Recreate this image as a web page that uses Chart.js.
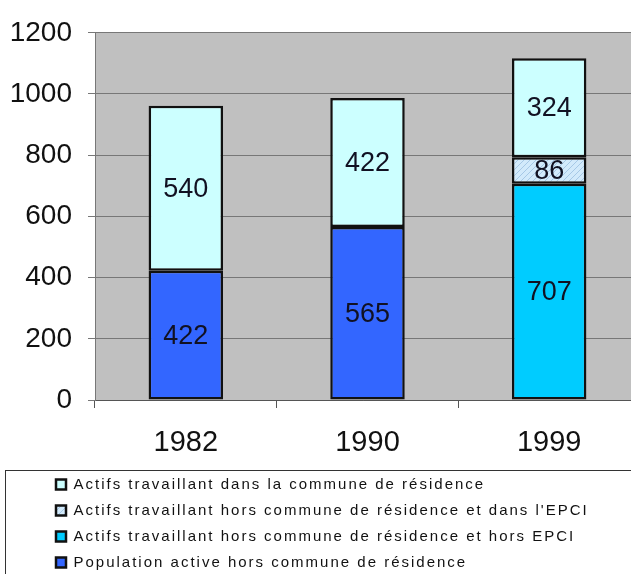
<!DOCTYPE html>
<html>
<head>
<meta charset="utf-8">
<script src="https://cdn.jsdelivr.net/npm/chart.js@4.4.0/dist/chart.umd.min.js"></script>
<style>
  html, body { margin: 0; padding: 0; background: #fff; }
  #wrap { width: 631px; height: 574px; }
</style>
</head>
<body>
<div id="wrap"><canvas id="chart" width="631" height="574"></canvas></div>
<script>
// data
const years = ['1982', '1990', '1999'];
const populationHorsCommune = [422, 565, null];
const horsCommuneHorsEpci = [null, null, 707];
const horsCommuneDansEpci = [null, null, 86];
const dansCommune = [540, 422, 324];
const yTicks = [0, 200, 400, 600, 800, 1000, 1200];

const seriesLabels = [
    'Population active hors commune de résidence',
    'Actifs travaillant hors commune de résidence et hors EPCI',
    "Actifs travaillant hors commune de résidence et dans l'EPCI",
    'Actifs travaillant dans la commune de résidence'
];

const FONT = '"Liberation Sans", Arial, sans-serif';

// hatched fill for the small 1999 segment
function makeHatch() {
    const c = document.createElement('canvas');
    c.width = 6;
    c.height = 6;
    const g = c.getContext('2d');
    g.fillStyle = '#d2eafb';
    g.fillRect(0, 0, 6, 6);
    g.strokeStyle = '#a6c8e6';
    g.lineWidth = 1;
    g.beginPath();
    g.moveTo(0, 6); g.lineTo(6, 0);
    g.moveTo(-3, 3); g.lineTo(3, -3);
    g.moveTo(3, 9); g.lineTo(9, 3);
    g.stroke();
    return g.createPattern(c, 'repeat');
}

// the grey plot area runs a little past the right edge of the picture
const widenPlot = {
    id: 'widenPlot',
    afterLayout(chart) {
        const extra = 9;
        chart.chartArea.right += extra;
        chart.chartArea.width += extra;
        const x = chart.scales.x;
        x.right += extra;
        x.width += extra;
        x.configure();
    }
};

const plotBackground = {
    id: 'plotBackground',
    beforeDraw(chart) {
        const a = chart.chartArea;
        const ctx = chart.ctx;
        ctx.save();
        ctx.fillStyle = '#c0c0c0';
        ctx.fillRect(a.left, a.top, a.right - a.left, a.bottom - a.top);
        ctx.restore();
    }
};

const valueLabels = {
    id: 'valueLabels',
    afterDatasetsDraw(chart) {
        const ctx = chart.ctx;
        ctx.save();
        ctx.font = '27px ' + FONT;
        ctx.fillStyle = '#111122';
        ctx.textAlign = 'center';
        ctx.textBaseline = 'middle';
        chart.data.datasets.forEach((ds, i) => {
            chart.getDatasetMeta(i).data.forEach((bar, j) => {
                const v = ds.data[j];
                if (v == null) return;
                const p = bar.getProps(['x', 'y', 'base'], true);
                ctx.fillText(String(v), p.x, (p.y + p.base) / 2 + 1);
            });
        });
        ctx.restore();
    }
};

// legend: fixed height, shifted right, spaced letters, framed
const legendFrame = {
    id: 'legendFrame',
    beforeInit(chart) {
        const lg = chart.legend;
        const origFit = lg.fit;
        lg.fit = function () {
            origFit.call(this);
            this.height = 108;
        };
        const origDraw = lg.draw;
        lg.draw = function () {
            const c = chart.ctx;
            c.save();
            c.letterSpacing = '2px';
            c.translate(45, 0);
            origDraw.call(this);
            c.restore();
        };
    },
    afterDraw(chart) {
        const lg = chart.legend;
        const ctx = chart.ctx;
        ctx.save();
        ctx.strokeStyle = '#333';
        ctx.lineWidth = 1;
        ctx.strokeRect(5.5, lg.top + 4.5, 640, 200);
        ctx.restore();
    }
};

const ctx = document.getElementById('chart').getContext('2d');
new Chart(ctx, {
    type: 'bar',
    data: {
        labels: years,
        datasets: [
            {
                label: seriesLabels[0],
                data: populationHorsCommune,
                backgroundColor: '#3366ff'
            },
            {
                label: seriesLabels[1],
                data: horsCommuneHorsEpci,
                backgroundColor: '#00ccff'
            },
            {
                label: seriesLabels[2],
                data: horsCommuneDansEpci,
                backgroundColor: makeHatch()
            },
            {
                label: seriesLabels[3],
                data: dansCommune,
                backgroundColor: '#ccffff'
            }
        ].map(ds => Object.assign(ds, {
            borderColor: '#111',
            borderWidth: 2.5,
            borderSkipped: false,
            categoryPercentage: 1,
            barPercentage: 0.41
        }))
    },
    options: {
        responsive: false,
        animation: false,
        layout: { padding: { left: 0, top: 31, right: 0, bottom: 0 } },
        plugins: {
            tooltip: { enabled: false },
            legend: {
                position: 'bottom',
                align: 'start',
                reverse: true,
                labels: {
                    boxWidth: 10,
                    boxHeight: 10,
                    padding: 11,
                    color: '#111',
                    font: { family: FONT, size: 15 }
                }
            }
        },
        scales: {
            x: {
                stacked: true,
                afterFit: s => { s.height = 66; },
                grid: {
                    drawOnChartArea: false,
                    drawTicks: true,
                    tickLength: 8,
                    color: '#555'
                },
                border: { color: '#555', width: 1 },
                ticks: {
                    padding: 18,
                    color: '#111',
                    font: { family: FONT, size: 29 }
                }
            },
            y: {
                stacked: true,
                min: 0,
                max: 1200,
                afterFit: s => { s.width = 95; },
                afterBuildTicks: s => { s.ticks = yTicks.map(v => ({ value: v })); },
                grid: {
                    color: '#777',
                    tickLength: 7
                },
                border: { color: '#777', width: 1 },
                ticks: {
                    padding: 16,
                    color: '#111',
                    font: { family: FONT, size: 28 },
                    callback: v => String(v)
                }
            }
        }
    },
    plugins: [widenPlot, plotBackground, valueLabels, legendFrame]
});
</script>
</body>
</html>
